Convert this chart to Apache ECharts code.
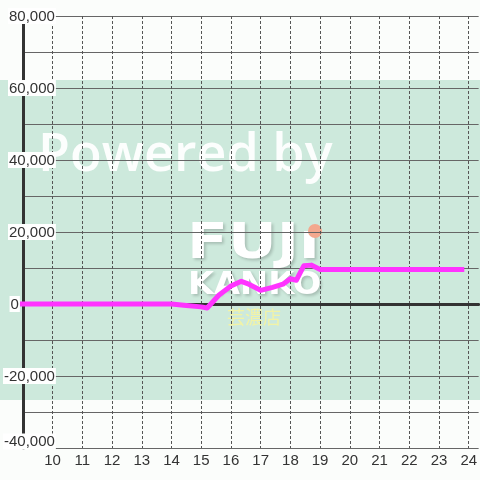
<!DOCTYPE html>
<html>
<head>
<meta charset="utf-8">
<script src="https://cdn.jsdelivr.net/npm/echarts@6/dist/echarts.min.js"></script>
<style>
  html, body { margin: 0; padding: 0; background: #fbfdfb; }
  #chart { width: 480px; height: 480px; }
</style>
</head>
<body>
<div id="chart"></div>
<script>
// hourly series (x = hour of day, y = value)
const hours = [8.9, 14, 14.5, 15, 15.2, 15.6, 16, 16.35, 16.6, 17, 17.4, 17.75, 18, 18.2, 18.45, 18.7, 19, 23.85];
const values = [0, 0, -400, -800, -1100, 2500, 5000, 6300, 5500, 3800, 4600, 5500, 7000, 6600, 10600, 10800, 9600, 9600];

// tick labels
const hourTicks = [10, 11, 12, 13, 14, 15, 16, 17, 18, 19, 20, 21, 22, 23, 24];
const valueTicks = [-40000, -20000, 0, 20000, 40000, 60000, 80000];

const labelFont = { fontFamily: 'Liberation Sans', fontSize: 15, color: '#333' };
const logoShadow = { textShadowColor: 'rgba(0,0,0,0.18)', textShadowBlur: 3, textShadowOffsetX: 2, textShadowOffsetY: 2 };

const chart = echarts.init(document.getElementById('chart'), null, { renderer: 'canvas' });

const option = {
  backgroundColor: '#fbfdfb',
  animation: false,
  grid: { left: 20, right: 0, top: 16, bottom: 32 },
  // watermark behind the plot
  graphic: [
    { type: 'rect', z: -10, silent: true, shape: { x: 0, y: 80, width: 480, height: 320 }, style: { fill: '#cde9dc' } },
    {
      type: 'text', z: -9, silent: true, x: 38, y: 156,
      style: { text: 'Powered by', fontFamily: 'Open Sans', fontWeight: 600, fontSize: 52, fill: 'rgba(255,255,255,0.93)', verticalAlign: 'middle' }
    },
    {
      type: 'text', z: -9, silent: true, x: 187, y: 245, scaleX: 1.2,
      style: { text: 'FUJı', fontFamily: 'DejaVu Sans', fontWeight: 'bold', fontSize: 50, fill: '#fff', verticalAlign: 'middle', ...logoShadow }
    },
    { type: 'circle', z: -9, silent: true, shape: { cx: 315, cy: 231, r: 7 }, style: { fill: '#f3a88e' } },
    {
      type: 'text', z: -9, silent: true, x: 188, y: 286, scaleX: 1.05,
      style: { text: 'KANKO', fontFamily: 'DejaVu Sans', fontWeight: 'bold', fontSize: 32, fill: '#fff', verticalAlign: 'middle', ...logoShadow }
    },
    {
      type: 'text', z: -9, silent: true, x: 227, y: 317,
      style: { text: '芸濃店', fontFamily: 'Noto Sans CJK JP', fontSize: 18, fill: 'rgba(246,244,160,0.9)', verticalAlign: 'middle' }
    }
  ],
  xAxis: [
    {
      type: 'value', min: 9, max: 24.3333, interval: 1, position: 'bottom',
      axisLine: { show: false, onZero: false },
      axisTick: { show: false },
      axisLabel: {
        ...labelFont, margin: 5, showMinLabel: false, showMaxLabel: false,
        formatter: v => hourTicks.includes(v) ? String(v) : ''
      },
      splitLine: { show: true, showMaxLine: false, lineStyle: { color: '#555', type: [3, 2], width: 1 } }
    },
    {
      // thick zero line
      type: 'value', min: 9, max: 24.3333, position: 'top',
      axisLine: { show: true, onZero: true, lineStyle: { color: '#333', width: 3 } },
      axisTick: { show: false },
      axisLabel: { show: false },
      splitLine: { show: false }
    }
  ],
  yAxis: {
    type: 'value', min: -40000, max: 80000, interval: 10000,
    axisLine: { show: true, onZero: false, lineStyle: { color: '#333', width: 3 } },
    axisTick: { show: false },
    splitLine: { show: true, lineStyle: { color: '#666', width: 1 } },
    axisLabel: {
      align: 'right', margin: -33,
      formatter: v => {
        if (!valueTicks.includes(v)) return '';
        if (v === 0) return '{z|0}{s| }';
        const txt = v.toLocaleString('en-US');
        // lowest label sits a little above its line
        if (v === valueTicks[0]) return '{a|' + txt + '}\n{p| }';
        return '{a|' + txt + '}';
      },
      rich: {
        a: { ...labelFont, backgroundColor: '#fff', padding: [1, 1, 0, 1] },
        z: { ...labelFont, backgroundColor: '#fff', padding: [1, 1, 0, 1] },
        s: { ...labelFont, width: 36 },
        p: { fontSize: 10, lineHeight: 13 }
      }
    }
  },
  series: [
    {
      type: 'line',
      xAxisIndex: 0,
      data: hours.map((h, i) => [h, values[i]]),
      symbol: 'none',
      clip: false,
      z: 5,
      lineStyle: { color: '#ff33ff', width: 5, cap: 'butt', join: 'round' }
    }
  ]
};

chart.setOption(option);
</script>
</body>
</html>
